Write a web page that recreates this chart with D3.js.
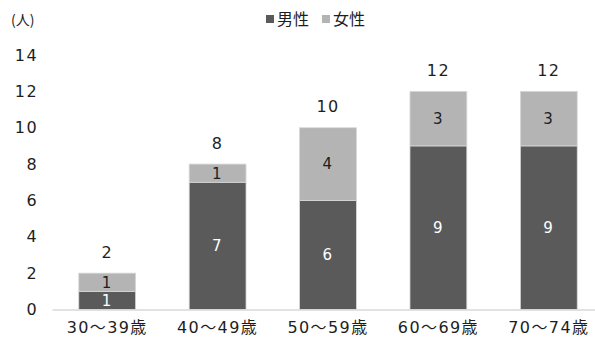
<!DOCTYPE html>
<html>
<head>
<meta charset="utf-8">
<script src="https://cdn.jsdelivr.net/npm/d3@7"></script>
<style>
  html, body { margin: 0; padding: 0; background: #fff; }
  svg { display: block; }
  text { font-family: "DejaVu Sans", "Noto Sans CJK JP", sans-serif; }
  .num { letter-spacing: 1.4px; }
</style>
</head>
<body>
<svg id="chart" width="595" height="338"></svg>
<script>
// Age groups and headcounts by sex
const categories = ["30～39歳", "40～49歳", "50～59歳", "60～69歳", "70～74歳"];
const male = [1, 7, 6, 9, 9];
const female = [1, 1, 4, 3, 3];
const seriesNames = ["男性", "女性"];
const yTicks = [0, 2, 4, 6, 8, 10, 12, 14];

const colors = { "男性": "#5a5a5a", "女性": "#b4b4b4" };
const ink = "#1e1e1e";

const svg = d3.select("#chart");
const W = 595, H = 338;
const margin = { left: 52, right: -9, top: 55, bottom: 28.5 };

const x = d3.scaleBand()
  .domain(categories)
  .range([margin.left, W - margin.right])
  .paddingInner(0.485)
  .paddingOuter(0.2425);

const y = d3.scaleLinear()
  .domain([0, 14])
  .range([H - margin.bottom, margin.top]);

const rows = categories.map((c, i) => ({ cat: c, "男性": male[i], "女性": female[i] }));
const stacked = d3.stack().keys(seriesNames)(rows);

// Y axis tick labels (no axis line)
const yAxis = d3.axisLeft(y).tickValues(yTicks).tickSize(0).tickPadding(0);
const gy = svg.append("g").attr("transform", "translate(38,0)").call(yAxis);
gy.select(".domain").remove();
gy.selectAll("text")
  .attr("class", "num")
  .attr("fill", ink)
  .style("font-size", "16px")
  .style("font-family", '"DejaVu Sans", sans-serif');

// Unit label
svg.append("text")
  .attr("x", 11).attr("y", 25)
  .attr("fill", ink)
  .style("font-size", "14px")
  .style("font-family", '"Noto Sans CJK JP", sans-serif')
  .text("(人)");

// Bars
const layers = svg.append("g").selectAll("g")
  .data(stacked)
  .join("g")
  .attr("fill", d => colors[d.key]);

layers.selectAll("rect")
  .data(d => d.map(p => ({ p, key: d.key })))
  .join("rect")
  .attr("x", d => x(d.p.data.cat))
  .attr("width", x.bandwidth())
  .attr("y", d => y(d.p[1]))
  .attr("height", d => y(d.p[0]) - y(d.p[1]))
  .attr("stroke", "#d8d8d8")
  .attr("stroke-width", 0.8);

// X axis baseline and category labels
const xAxis = d3.axisBottom(x).tickSize(0).tickPadding(12);
const gx = svg.append("g").attr("transform", `translate(0,${y(0)})`).call(xAxis);
gx.select(".domain").attr("stroke", "#d9d9d9").attr("stroke-width", 1.5);
gx.selectAll("text")
  .attr("class", "num")
  .attr("fill", ink)
  .style("font-size", "16px")
  .style("font-family", '"DejaVu Sans", "Noto Sans CJK JP", sans-serif');

// Segment value labels
layers.selectAll("text.seg")
  .data(d => d.map(p => ({ p, key: d.key })))
  .join("text")
  .attr("class", "seg num")
  .attr("x", d => x(d.p.data.cat) + x.bandwidth() / 2)
  .attr("y", d => (y(d.p[0]) + y(d.p[1])) / 2)
  .attr("dy", "0.36em")
  .attr("text-anchor", "middle")
  .attr("fill", d => d.key === "男性" ? "#ffffff" : ink)
  .style("font-size", "15px")
  .text(d => d.p.data[d.key]);

// Totals above each bar
svg.append("g").selectAll("text")
  .data(rows)
  .join("text")
  .attr("class", "num")
  .attr("x", d => x(d.cat) + x.bandwidth() / 2)
  .attr("y", d => y(d["男性"] + d["女性"]) - 21)
  .attr("dy", "0.36em")
  .attr("text-anchor", "middle")
  .attr("fill", ink)
  .style("font-size", "16px")
  .text(d => d["男性"] + d["女性"]);

// Legend
const legend = svg.append("g").attr("transform", "translate(266,19)");
const items = [{ key: "男性", x: 0 }, { key: "女性", x: 56 }];
items.forEach(it => {
  const g = legend.append("g").attr("transform", `translate(${it.x},0)`);
  g.append("rect").attr("x", 0).attr("y", -4).attr("width", 8).attr("height", 8)
    .attr("fill", colors[it.key]);
  g.append("text").attr("x", 11).attr("y", 0).attr("dy", "0.36em")
    .attr("fill", ink)
    .style("font-size", "16px")
    .style("font-family", '"Noto Sans CJK JP", sans-serif')
    .text(it.key);
});
</script>
</body>
</html>
